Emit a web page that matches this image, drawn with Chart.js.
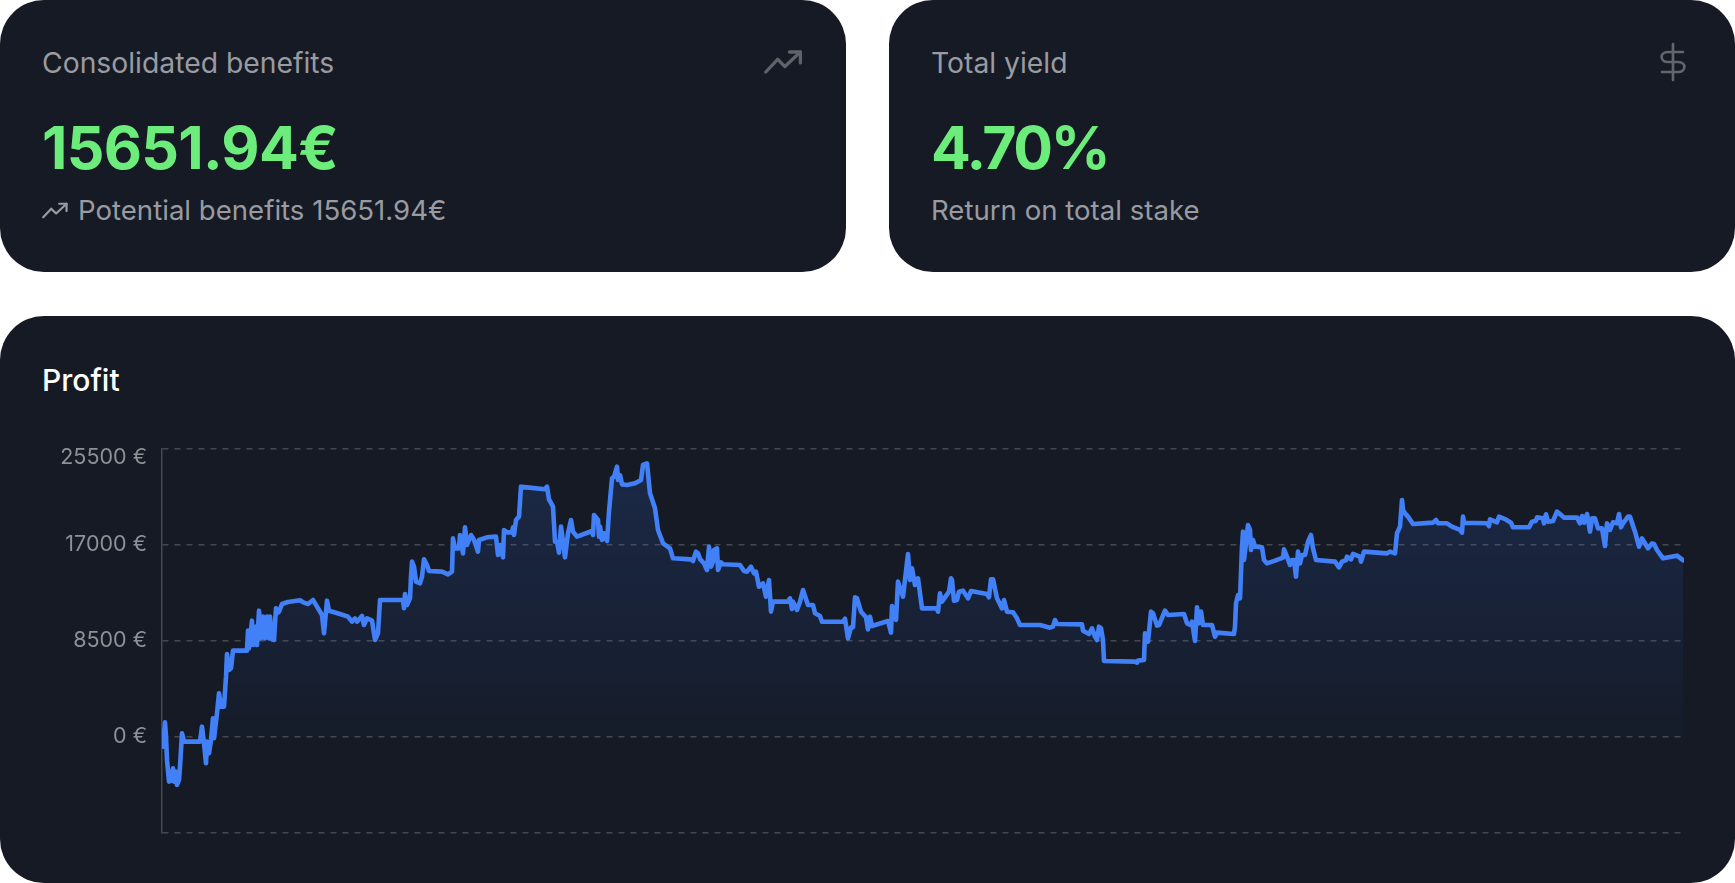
<!DOCTYPE html>
<html>
<head>
<meta charset="utf-8">
<title>Profit</title>
<script src="https://cdn.jsdelivr.net/npm/chart.js@4"></script>
<style>
  html, body { margin: 0; padding: 0; background: #fff; }
  body { width: 1735px; height: 883px; position: relative; overflow: hidden; font-family: Inter, sans-serif; }
  .card { position: absolute; background: #151a24; border-radius: 44px; }
  .card .label, .card .big, .card .sub, .card .title { position: absolute; left: 42px; white-space: nowrap; line-height: 1; }
  .label { top: 49px; font-size: 28.3px; color: #999ba1; }
  .big { top: 118px; font-size: 59px; font-weight: 700; color: #6cec7b; letter-spacing: -0.7px; }
  .sub { top: 197px; font-size: 27.6px; color: #999ba1; }
  .title { top: 49px; font-size: 30px; font-weight: 500; color: #fff; }
  .card svg { position: absolute; fill: none; stroke-linecap: round; stroke-linejoin: round; }
  canvas { position: absolute; left: 0; top: 0; }
</style>
</head>
<body>
<div class="card" style="left:0;top:0;width:846px;height:272px">
  <div class="label">Consolidated benefits</div>
  <svg style="left:764px;top:50px" width="40" height="24" viewBox="0 0 22 13" stroke="#5f6269" stroke-width="1.8"><path d="M1 12 L7.5 5 L11.5 9 L20 1"/><path d="M14 1 L20 1 L20 7"/></svg>
  <div class="big">15651.94€</div>
  <svg style="left:42px;top:202px" width="27" height="17" viewBox="0 0 22 13" stroke="#999ba1" stroke-width="1.8"><path d="M1 12 L7.5 5 L11.5 9 L20 1"/><path d="M14 1 L20 1 L20 7"/></svg>
  <div class="sub" style="left:78px">Potential benefits 15651.94€</div>
</div>
<div class="card" style="left:889px;top:0;width:846px;height:272px">
  <div class="label">Total yield</div>
  <svg style="left:771px;top:42px" width="26" height="40" viewBox="0 0 26 40" stroke="#63666d" stroke-width="2.6"><path d="M13 2 L13 38"/><path d="M23 10 L8 10 C-0.5 10 -0.5 20 8 20 L18 20 C26.5 20 26.5 30 18 30 L2 30"/></svg>
  <div class="big" style="letter-spacing:-2.4px">4.70%</div>
  <div class="sub">Return on total stake</div>
</div>
<div class="card" style="left:0;top:316px;width:1735px;height:567px">
  <div class="title">Profit</div>
  <canvas id="profitChart" width="1735" height="567"></canvas>
</div>
<script>
// x position of each reading along the history, y value in euro
const betIndex = [
  0,1,3,4,5,7,9,11,12,14,15,17,18,20,22,38,40,42,44,45,47,49,51,52,55,57,59,62,64,65,67,69,71,85,86,87,90,91,94,95,97,99,101,103,105,107,108,110,112,114,115,117,120,126,138,142,146,151,155,160,162,165,167,178,186,190,193,195,200,202,205,210,213,216,
  218,241,242,243,245,248,249,250,252,254,258,260,262,265,267,280,286,290,291,293,297,298,301,303,305,309,312,316,317,325,334,336,338,341,342,345,350,351,352,354,357,359,365,383,385,387,391,393,395,397,399,401,403,406,409,411,415,430,431,432,436,437,
  438,440,442,445,447,450,452,455,456,458,460,465,473,479,481,485,488,493,496,501,508,511,529,531,534,536,538,542,545,547,549,551,552,555,556,559,561,578,582,585,589,592,594,597,601,604,607,609,611,626,628,630,631,635,638,641,646,651,653,
  658,660,681,683,686,689,691,693,695,699,704,706,708,710,726,729,730,734,736,741,746,748,750,753,756,760,775,776,778,780,787,789,790,792,795,797,801,806,809,825,827,829,831,835,840,842,845,851,855,858,
  878,888,891,893,895,920,921,927,930,933,935,937,939,941,942,973,975,976,982,983,985,986,989,991,995,997,1003,1006,1022,1025,1029,1030,1033,1035,1037,1039,1041,1050,1053,1055,1072,
  1073,1074,1076,1078,1080,1081,1082,1084,1086,1088,1089,1091,1093,1100,1102,1105,1113,1121,1122,1125,1128,1130,1132,1134,1136,1138,1140,1143,1146,1149,1151,1154,1173,1177,1180,1184,1185,1189,1191,1198,1199,1202,1225,1228,1233,1235,1238,1240,1241,1243,1246,1251,1271,1274,1276,1285,1290,
  1298,1300,1301,1302,1325,1327,1328,1335,1337,1343,1349,1351,1367,1370,1374,1375,1381,1382,1384,1386,1391,1395,1398,1402,1415,1418,1420,1422,1425,1428,1430,1433,1436,1440,1443,1445,1448,1451,1455,1457,1459,1461,1466,1468,1473,1477,1480,1484,1486,1490,1492,1495,1501,1515,1521
];
const profit = [
  -410,-855,1300,30,-2035,-3950,-3805,-2775,-3950,-3070,-4250,-3805,-2625,325,-410,-410,915,-560,-2330,-410,-1445,-265,1655,-115,2095,3865,2685,2685,5340,7350,5930,6080,7645,7645,9415,7850,10300,8145,9770,8145,11185,8735,10655,8735,10655,8735,10655,8650,8590,11390,10950,11095,11775,11950,12100,11895,11775,12130,11540,10800,9180,12070,11185,10890,10655,10210,10505,10210,10715,9915,10505,10300,8590,9180,
  12130,12130,11395,12660,11690,12280,14195,15525,15080,13755,13605,14195,15730,15230,14700,14640,14400,14640,17590,16705,16705,17885,16260,18565,17000,17885,17445,16410,17445,17680,17740,16115,17000,15910,18330,18120,18120,18565,17885,19215,19510,22165,22105,21930,22165,21045,20395,17295,17295,16320,18625,17295,15910,18035,19215,18180,17740,18240,17885,19655,19215,17740,
  18625,17445,18035,17355,19950,22900,23050,23935,22755,23195,22370,22310,22460,22755,24085,24230,21575,20245,18330,17150,16705,15820,15730,15585,16410,16265,15760,15375,14785,16855,15080,15525,16560,16705,14785,15465,15290,15230,14700,14640,15080,14490,14640,13310,13605,12425,13900,11100,11985,11985,12280,11335,11985,11245,11985,13015,11690,11690,10950,
  10715,10210,10210,10480,8735,9710,9710,12365,12280,11095,10595,9535,10655,9830,10270,9240,11600,10360,13755,12425,16200,13900,14935,13460,14050,11390,11390,11095,12720,11985,12870,14050,13900,12070,12130,12870,12955,12280,12925,12660,12365,13960,13960,12280,11390,12130,11095,11040,10505,9915,
  9915,9680,9770,10360,10005,9975,9415,9120,9620,8885,8590,9770,9620,8590,6730,6670,6585,6760,6820,9180,8440,8440,11100,10950,9860,9915,11185,10800,10890,10065,9915,10210,8500,11480,10065,11100,9915,9915,8885,9240,9120,
  9770,11835,12575,12280,16855,18180,15670,17150,18770,18330,16560,17445,16855,16795,15670,15375,15615,15880,16615,15970,15230,15670,15670,14195,16410,15375,16115,16115,17295,17885,16705,15670,15525,15025,15525,15670,15970,15730,16205,15970,15525,16410,16260,16410,16260,18035,18625,20985,20100,19800,19510,18860,18980,19215,18920,18920,18625,
  18330,18090,19510,18975,18920,18680,19270,19005,19510,19300,18975,18565,18565,19065,19155,19450,19360,18920,19715,19065,19125,19950,19745,19420,19420,18920,19565,18975,19745,18180,19360,19360,18475,18475,16910,18920,18330,19005,18920,19745,18565,18920,19510,19510,18180,16850,17590,17000,16705,17145,17090,16555,15820,16055,15652
];
const yTicks = [-8500, 0, 8500, 17000, 25500];

const points = betIndex.map((x, i) => ({ x, y: profit[i] }));

function areaGradient(ctx) {
  const { chart } = ctx;
  if (!chart.chartArea) return 'transparent';
  const yScale = chart.scales.y;
  const g = chart.ctx.createLinearGradient(0, yScale.getPixelForValue(24000), 0, yScale.getPixelForValue(-4000));
  g.addColorStop(0, 'rgba(59,118,246,0.17)');
  g.addColorStop(1, 'rgba(59,118,246,0.0)');
  return g;
}

new Chart(document.getElementById('profitChart').getContext('2d'), {
  type: 'line',
  data: {
    datasets: [{
      data: points,
      borderColor: '#4180f6',
      borderWidth: 4.6,
      borderJoinStyle: 'round',
      borderCapStyle: 'round',
      pointRadius: 0,
      tension: 0,
      fill: { value: 0 },
      backgroundColor: areaGradient
    }]
  },
  options: {
    responsive: false,
    animation: false,
    layout: { padding: { top: 133, bottom: 50, right: 51, left: 0 } },
    plugins: { legend: { display: false }, tooltip: { enabled: false } },
    scales: {
      x: { type: 'linear', display: false, min: 0, max: 1522 },
      y: {
        min: yTicks[0],
        max: yTicks[yTicks.length - 1],
        afterFit: (scale) => { scale.width = 162; },
        afterBuildTicks: (scale) => { scale.ticks = yTicks.map((value) => ({ value })); },
        border: { display: true, color: '#44484f', width: 1.5, dash: [6, 6] },
        grid: { color: '#44484f', lineWidth: 1.5, drawTicks: false },
        ticks: {
          padding: 15,
          color: '#8d9096',
          font: { family: 'Inter', size: 21.5, lineHeight: 0.8 },
          callback: (value) => {
            if (value === yTicks[0]) return '';
            // the top label sits just under its grid line
            if (value === yTicks[yTicks.length - 1]) return ['', value + ' €'];
            return value + ' €';
          }
        }
      }
    }
  }
});
</script>
</body>
</html>
